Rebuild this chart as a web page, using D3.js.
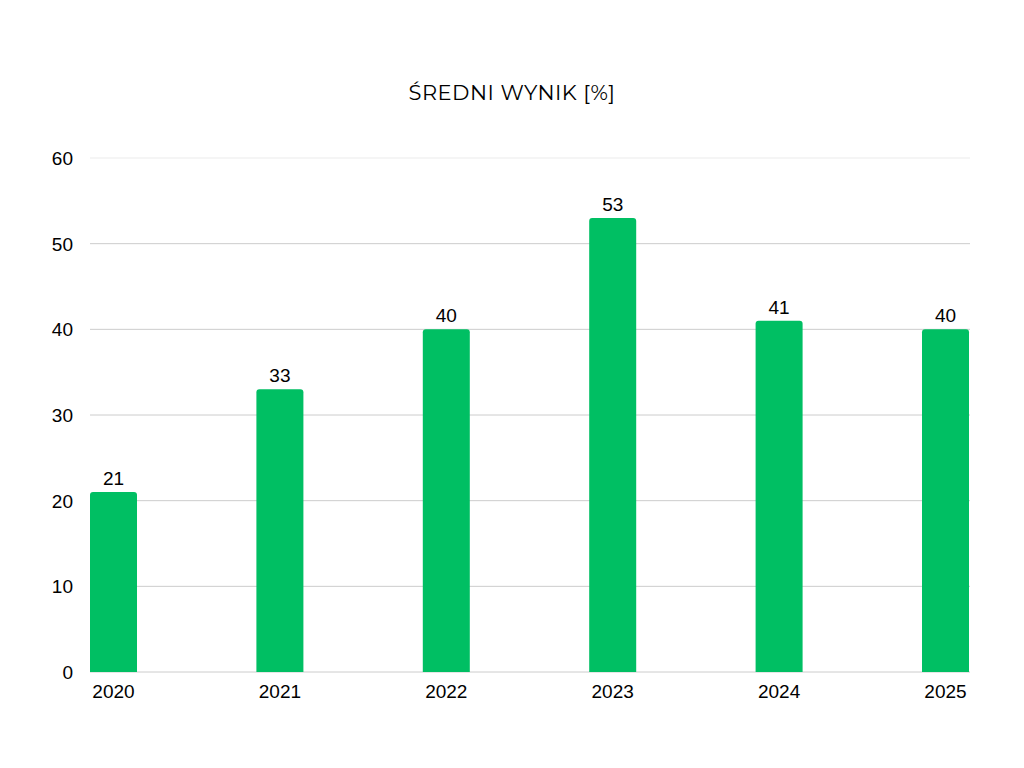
<!DOCTYPE html>
<html><head><meta charset="utf-8">
<script src="https://cdn.jsdelivr.net/npm/d3@7"></script>
<style>body{margin:0;background:#fff}</style></head>
<body><svg id="c" width="1024" height="768"></svg>
<script>
const categories = ["2020","2021","2022","2023","2024","2025"];
const values = [21,33,40,53,41,40];
const yTicks = [0,10,20,30,40,50,60];
const title = "ŚREDNI WYNIK [%]";

const svg = d3.select("#c");
const x = d3.scalePoint().domain(categories).range([90, 922]);
const bw = 47;
const y = d3.scaleLinear().domain([0,60]).range([672,158]);
const font = "Liberation Sans, Arial, sans-serif";

svg.append("text").attr("x",512).attr("y",100).attr("text-anchor","middle")
  .attr("font-family","Montserrat, 'Open Sans', sans-serif").attr("font-size",21)
  .attr("letter-spacing",0.5).text(title);

svg.selectAll(".g").data(yTicks).enter().append("line")
  .attr("x1",90).attr("x2",970).attr("y1",d=>y(d)).attr("y2",d=>y(d))
  .attr("stroke",d=>d===60?"#ebebeb":"#cccccc").attr("stroke-width",1);

svg.selectAll(".yl").data(yTicks).enter().append("text")
  .attr("x",73).attr("y",d=>y(d)+7).attr("text-anchor","end")
  .attr("font-family",font).attr("font-size",19).text(d=>d);

const r = 3;
svg.selectAll(".b").data(values).enter().append("path")
  .attr("fill","#00bf63")
  .attr("d",(d,i)=>{
    const x0=x(categories[i]), x1=x0+bw, yt=y(d), yb=y(0);
    return `M${x0},${yb}V${yt+r}Q${x0},${yt} ${x0+r},${yt}H${x1-r}Q${x1},${yt} ${x1},${yt+r}V${yb}Z`;
  });

svg.selectAll(".vl").data(values).enter().append("text")
  .attr("x",(d,i)=>x(categories[i])+bw/2).attr("y",d=>y(d)-7)
  .attr("text-anchor","middle").attr("font-family",font).attr("font-size",19).text(d=>d);

svg.selectAll(".xl").data(categories).enter().append("text")
  .attr("x",d=>x(d)+bw/2).attr("y",698)
  .attr("text-anchor","middle").attr("font-family",font).attr("font-size",19).text(d=>d);
</script></body></html>
